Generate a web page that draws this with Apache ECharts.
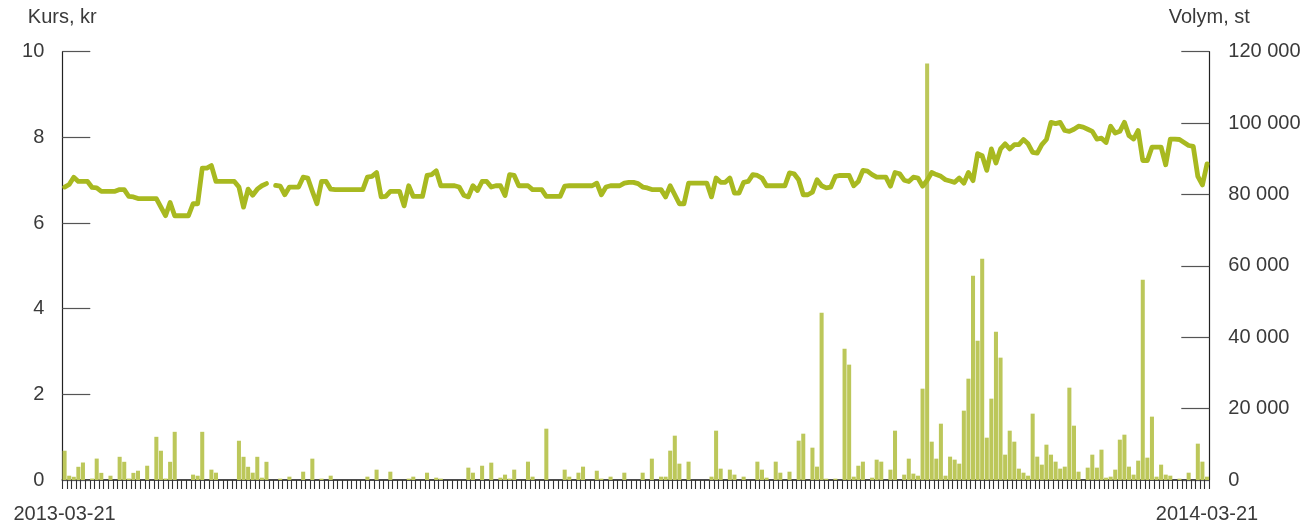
<!DOCTYPE html>
<html>
<head>
<meta charset="utf-8">
<script src="https://cdn.jsdelivr.net/npm/echarts@6/dist/echarts.min.js"></script>
<style>
html,body{margin:0;padding:0;background:#fff;}
#chart{width:1306px;height:526px;}
</style>
</head>
<body>
<div id="chart"></div>
<script>
// Closing price (kr), one value per trading day; null = no trade
const kurs = [
6.84,6.90,7.07,6.97,6.97,6.97,6.83,6.82,6.74,6.74,
6.74,6.74,6.78,6.78,6.62,6.61,6.57,6.57,6.57,6.57,
6.57,6.37,6.17,6.48,6.17,6.17,6.17,6.17,6.45,6.45,
7.28,7.28,7.34,6.97,6.97,6.97,6.97,6.97,6.84,6.37,
6.79,6.65,6.79,6.87,6.92,null,6.88,6.86,6.66,6.84,
6.84,6.84,7.07,7.05,6.74,6.45,6.97,6.97,6.79,6.78,
6.78,6.78,6.78,6.78,6.78,6.78,7.07,7.09,7.18,6.61,
6.62,6.74,6.74,6.74,6.40,6.87,6.62,6.62,6.62,7.11,
7.13,7.22,6.87,6.87,6.87,6.87,6.84,6.65,6.61,6.87,
6.76,6.97,6.97,6.84,6.87,6.87,6.64,7.13,7.11,6.87,
6.87,6.87,6.78,6.78,6.78,6.62,6.62,6.62,6.62,6.86,
6.87,6.87,6.87,6.87,6.87,6.87,6.93,6.66,6.84,6.87,
6.87,6.87,6.93,6.95,6.95,6.92,6.84,6.82,6.78,6.78,
6.78,6.61,6.87,6.66,6.45,6.45,6.93,6.93,6.93,6.93,
6.93,6.61,7.05,6.95,6.95,7.05,6.70,6.70,6.95,6.97,
7.13,7.11,7.05,6.87,6.87,6.87,6.87,6.87,7.17,7.15,
7.01,6.66,6.66,6.72,7.01,6.87,6.82,6.84,7.09,7.11,
7.11,7.11,6.87,6.97,7.23,7.21,7.13,7.07,7.07,7.07,
6.86,7.18,7.15,7.00,6.97,7.07,7.05,6.86,7.00,7.18,
7.13,7.09,7.01,6.98,6.95,7.05,6.93,7.18,6.99,7.62,
7.57,7.23,7.73,7.40,7.73,7.85,7.73,7.83,7.83,7.95,
7.85,7.65,7.63,7.83,7.95,8.35,8.32,8.35,8.16,8.14,
8.19,8.26,8.24,8.19,8.14,7.96,7.98,7.88,8.26,8.10,
8.14,8.35,8.04,7.96,8.16,7.46,7.46,7.77,7.77,7.77,
7.36,7.96,7.96,7.95,7.88,7.81,7.79,7.09,6.89,7.38
];
// Traded volume (st), one value per trading day
const volym = [
8200,1200,900,3700,4900,0,400,6000,2000,0,
1200,0,6500,5100,400,2000,2600,0,4000,0,
12100,8200,400,5100,13500,0,0,0,1500,1200,
13500,0,2900,2050,0,0,0,0,11000,6500,
3700,2050,6500,650,5100,0,0,370,0,930,
0,0,2330,0,5980,0,370,0,1210,0,
0,0,0,0,0,0,930,0,2900,0,
0,2330,0,0,0,370,930,0,0,2050,
0,650,370,0,0,0,0,0,3460,2050,
0,4000,0,4860,0,650,1500,370,2900,0,
0,5140,930,0,0,14380,0,0,0,2900,
930,0,2050,3740,0,0,2600,370,0,930,
0,0,2050,0,0,0,2050,0,5980,0,
930,930,8220,12420,4580,0,5140,0,0,0,
0,930,13820,3180,0,2900,1500,0,930,0,
0,5140,2900,650,0,5140,2050,0,2330,0,
11020,12980,0,9060,3740,46890,370,0,370,0,
36800,32320,930,4000,5140,0,650,5700,5140,0,
2900,13820,0,1500,5980,1780,1210,25590,116700,10740,
5980,15780,1210,6540,5700,4580,19430,28390,57250,39040,
62020,11860,22790,41560,34280,7100,13820,10740,3180,2050,
1210,18590,6540,4300,9900,7100,5140,3180,3740,25870,
15220,2330,0,3460,7100,3460,8500,650,930,2900,
11300,12700,3740,1500,5420,56130,6260,17750,930,4300,
1500,1210,0,370,0,2050,0,10180,5140,930
];
const xTickLabels = ['2013-03-21', '2014-03-21'];
const kursTicks = [0, 2, 4, 6, 8, 10];
const volymTicks = [0, 20000, 40000, 60000, 80000, 100000, 120000];

const categories = kurs.map((_, i) => String(i));
const FONT = 'Liberation Sans';
const TXT = '#3a3a3a';

const chart = echarts.init(document.getElementById('chart'), null, {renderer: 'canvas'});
chart.setOption({
  animation: false,
  backgroundColor: '#fff',
  grid: {left: 62.3, right: 96.7, top: 51.7, bottom: 46},
  xAxis: {
    type: 'category',
    data: categories,
    boundaryGap: true,
    axisLine: {lineStyle: {color: '#111', width: 1.6}},
    axisTick: {show: true, length: 9, interval: 0, lineStyle: {color: '#333', width: 1.1}},
    axisLabel: {
      interval: (i) => i === 0 || i === categories.length - 1,
      formatter: (v, i) => i === 0 ? xTickLabels[0] : xTickLabels[1],
      margin: 24, fontSize: 20, fontFamily: FONT, color: TXT
    },
    splitLine: {show: false}
  },
  yAxis: [
    {
      type: 'value', min: kursTicks[0], max: kursTicks[kursTicks.length - 1], interval: 2,
      name: 'Kurs, kr', nameLocation: 'end', nameGap: 24,
      nameTextStyle: {fontSize: 20, fontFamily: FONT, color: TXT, align: 'center'},
      axisLine: {show: true, lineStyle: {color: '#222', width: 1.2}},
      axisTick: {show: true, inside: true, length: 28, lineStyle: {color: '#555', width: 1.2}},
      axisLabel: {margin: 18, fontSize: 20, fontFamily: FONT, color: TXT},
      splitLine: {show: false}
    },
    {
      type: 'value', min: volymTicks[0], max: volymTicks[volymTicks.length - 1], interval: 20000,
      name: 'Volym, st', nameLocation: 'end', nameGap: 24,
      nameTextStyle: {fontSize: 20, fontFamily: FONT, color: TXT, align: 'center'},
      position: 'right',
      axisLine: {show: true, lineStyle: {color: '#222', width: 1.2}},
      axisTick: {show: true, inside: true, length: 28, lineStyle: {color: '#555', width: 1.2}},
      axisLabel: {
        margin: 19, fontSize: 20, fontFamily: FONT, color: TXT,
        formatter: (v) => String(v).replace(/\B(?=(\d{3})+(?!\d))/g, ' ')
      },
      splitLine: {show: false}
    }
  ],
  series: [
    {
      name: 'Volym', type: 'bar', yAxisIndex: 1, data: volym,
      barWidth: '88%', itemStyle: {color: '#bcc75a'}, z: 1
    },
    {
      name: 'Kurs', type: 'line', yAxisIndex: 0, data: kurs,
      showSymbol: false, connectNulls: false,
      lineStyle: {color: '#a8b920', width: 4.8, join: 'round', cap: 'round'}, z: 3
    }
  ]
});
</script>
</body>
</html>
